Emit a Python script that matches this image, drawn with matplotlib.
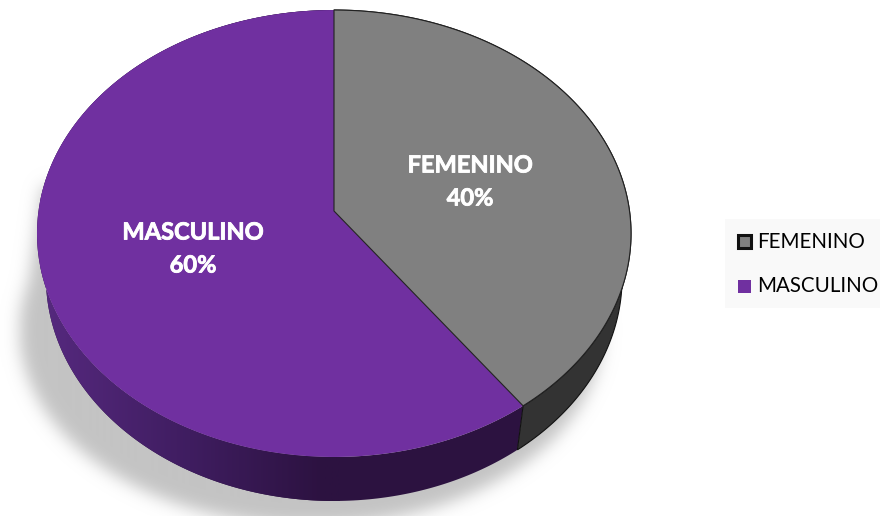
import numpy as np
from matplotlib import patheffects
from matplotlib import pyplot as plt
from matplotlib.colors import LinearSegmentedColormap
from matplotlib.patches import Polygon, Rectangle

labels = ['FEMENINO', 'MASCULINO']
values = [40, 60]
colors = ['#808080', '#7030a0']

plt.rcParams['font.family'] = ['Lato', 'DejaVu Sans']

# perspective of the pie, in pixels
CX = 334
Y_TOP = 211
Y_LOW = 255
A = 295.5
B = 221.2
K = 0.1007
LOW_SCALE = 0.97


def project(theta, r, y0, x_scale = 1.0):
  u = r * np.sin(theta)
  v = r * np.cos(theta)
  w = 1 + K * v
  return CX + x_scale * A * u / w, y0 - B * v / w


def arc(start, end, y0, x_scale = 1.0):
  t = np.linspace(start, end, 300)
  x, y = project(t, 1.0, y0, x_scale)
  return np.column_stack([x, y])


def blur(img, sigma):
  size = int(sigma * 3)
  kernel = np.exp(-0.5 * (np.arange(-size, size + 1) / sigma) ** 2)
  kernel /= kernel.sum()
  img = np.apply_along_axis(lambda r: np.convolve(r, kernel, mode = 'same'), 0, img)
  return np.apply_along_axis(lambda r: np.convolve(r, kernel, mode = 'same'), 1, img)


fig = plt.figure(figsize = (8.8, 5.16), dpi = 100)
ax = fig.add_axes([0, 0, 1, 1])

# soft shadow under the pie
pad = 40
yy, xx = np.mgrid[-pad:516 + pad, -pad:880 + pad]
shadow = (((xx - 310) / 291.0) ** 2 + ((yy - 330) / 195.0) ** 2 < 1).astype(float)
cone = (xx > 42 - (yy - 185) * 0.14) & (xx < 200) & (yy > 185) & (yy < 330)
shadow[cone] = 1.0
shadow = blur(shadow, 8)
shade = LinearSegmentedColormap.from_list('shade', ['#ffffff', '#c4c4c4'])
ax.imshow(shadow, cmap = shade, vmin = 0, vmax = 1, aspect = 'auto', zorder = 1,
          extent = (-pad, 880 + pad, 516 + pad, -pad))

fractions = np.array(values) / sum(values)
edges = np.concatenate([[0], np.cumsum(fractions)]) * 2 * np.pi

# side walls
wall_purple = LinearSegmentedColormap.from_list(
  'wall', [(0, '#56297f'), (0.5, '#3f1d60'), (0.95, '#2c1240'), (1, '#2c1240')])
for i in range(len(values)):
  top = arc(edges[i], edges[i + 1], Y_TOP)
  low = arc(edges[i], edges[i + 1], Y_LOW, LOW_SCALE)
  wall = np.vstack([top, low[::-1]])
  if i == 0:
    ax.add_patch(Polygon(wall, closed = True, facecolor = '#333333', edgecolor = '#111111',
                         linewidth = 0.8, zorder = 2))
  else:
    ax.add_patch(Polygon(wall, closed = True, facecolor = '#2c1240', edgecolor = 'none', zorder = 1.9))
    patch = Polygon(wall, closed = True, facecolor = 'none', edgecolor = 'none', zorder = 2)
    ax.add_patch(patch)
    grad = ax.imshow(np.linspace(0, 1, 256)[None, :], cmap = wall_purple, aspect = 'auto',
                     extent = (40, 340, 516, 0), zorder = 2)
    grad.set_clip_path(patch)

# top face, purple first so the gray outline stays on top
for i in [1, 0]:
  rim = arc(edges[i], edges[i + 1], Y_TOP)
  face = np.vstack([[CX, Y_TOP], rim])
  edge = '#222222' if i == 0 else 'none'
  ax.add_patch(Polygon(face, closed = True, facecolor = colors[i], edgecolor = edge,
                       linewidth = 0.8, zorder = 3, joinstyle = 'round'))

# slice labels
heavy = [patheffects.withStroke(linewidth = 0.6, foreground = 'white')]
label_pos = [(470, 165), (193, 232)]
for name, val, pos in zip(labels, values, label_pos):
  ax.text(pos[0], pos[1], name, color = 'white', fontsize = 17, fontweight = 'bold',
          ha = 'center', va = 'center', zorder = 4, path_effects = heavy)
  ax.text(pos[0], pos[1] + 33, '%d%%' % val, color = 'white', fontsize = 17, fontweight = 'bold',
          ha = 'center', va = 'center', zorder = 4, path_effects = heavy)

# legend
ax.add_patch(Rectangle((725, 219), 155, 89, facecolor = '#f9f9f9', edgecolor = 'none', zorder = 1.5))
leg_y = [241.5, 286.5]
for i, name in enumerate(labels):
  edge = '#111111' if i == 0 else 'none'
  ax.add_patch(Rectangle((737.5, leg_y[i] - 6.5), 13, 13, facecolor = colors[i], edgecolor = edge,
                         linewidth = 2.2, zorder = 3))
  ax.text(757, leg_y[i], name, color = '#000000', fontsize = 14.8, ha = 'left', va = 'center', zorder = 3)

ax.set_xlim(0, 880)
ax.set_ylim(516, 0)
ax.axis('off')

fig.savefig('out.png', dpi = 100)
